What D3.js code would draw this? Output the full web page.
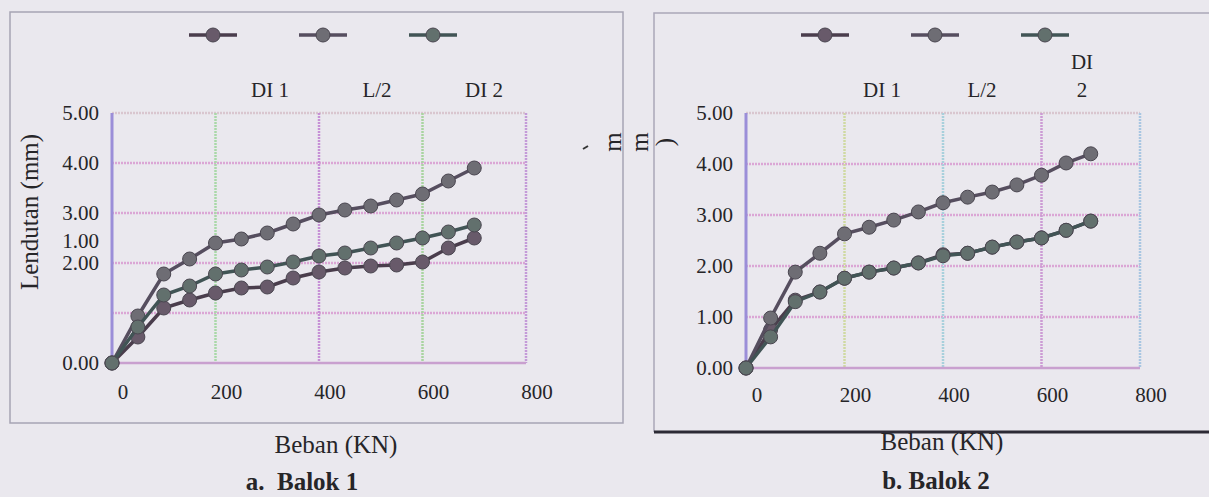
<!DOCTYPE html>
<html>
<head>
<meta charset="utf-8" />
<script src="https://cdn.jsdelivr.net/npm/d3@7/dist/d3.min.js"></script>
<style>
  body { margin: 0; background: #eae8ee; }
  svg { display: block; }
  text { font-family: "Liberation Serif", "Times New Roman", serif; fill: #262528; white-space: pre; }
</style>
</head>
<body>
<script>
// data
var loads = [0, 50, 100, 150, 200, 250, 300, 350, 400, 450, 500, 550, 600, 650, 700];
var seriesNames = ["DI 1", "L/2", "DI 2"];

var balok1DI1 = [0, 0.52, 1.10, 1.26, 1.40, 1.50, 1.52, 1.70, 1.82, 1.90, 1.94, 1.96, 2.02, 2.30, 2.50];
var balok1L2  = [0, 0.94, 1.78, 2.08, 2.40, 2.48, 2.60, 2.78, 2.96, 3.06, 3.14, 3.26, 3.38, 3.64, 3.90];
var balok1DI2 = [0, 0.72, 1.36, 1.54, 1.78, 1.86, 1.92, 2.02, 2.14, 2.20, 2.30, 2.40, 2.50, 2.62, 2.76];

var balok2DI1 = [0, 0.75, 1.33, 1.49, 1.76, 1.88, 1.96, 2.06, 2.22, 2.25, 2.37, 2.47, 2.55, 2.70, 2.88];
var balok2L2  = [0, 0.98, 1.88, 2.25, 2.63, 2.76, 2.90, 3.06, 3.24, 3.35, 3.45, 3.59, 3.78, 4.02, 4.20];
var balok2DI2 = [0, 0.61, 1.30, 1.49, 1.76, 1.88, 1.96, 2.06, 2.20, 2.25, 2.37, 2.47, 2.55, 2.70, 2.88];

var xTicks = [0, 200, 400, 600, 800];
var yTicks = [0, 1, 2, 3, 4, 5];

var lineColors = ["#4a3d4c", "#564e5f", "#415455"];
var dotColors  = ["#685a6a", "#6e6d74", "#62706d"];

var svg = d3.select("body").append("svg")
    .attr("width", 1209)
    .attr("height", 497);

// scanned page frames
svg.append("rect").attr("x", 10).attr("y", 12).attr("width", 613).attr("height", 411)
    .attr("fill", "none").attr("stroke", "#a6a4b4").attr("stroke-width", 1.5);
svg.append("path").attr("d", "M654,432 L654,13 L1209,13")
    .attr("fill", "none").attr("stroke", "#aaa6b8").attr("stroke-width", 1.5);
svg.append("line").attr("x1", 654).attr("x2", 1209).attr("y1", 432).attr("y2", 432)
    .attr("stroke", "#2c2a35").attr("stroke-width", 3);

function drawChart(o) {
  var g = svg.append("g");
  var x = d3.scaleLinear().domain([0, 800]).range([o.left, o.right]);
  var y = d3.scaleLinear().domain([0, 5]).range([o.bottom, o.top]);

  // grid
  g.selectAll(".hg").data(yTicks.slice(1)).enter().append("line")
      .attr("x1", o.left).attr("x2", o.right)
      .attr("y1", function (d) { return y(d); }).attr("y2", function (d) { return y(d); })
      .attr("stroke", function (d) { return d === 5 ? "#d9c6cf" : "#dba6d5"; })
      .attr("stroke-width", 2.5).attr("stroke-dasharray", "2,1");
  g.selectAll(".vg").data(xTicks.slice(1)).enter().append("line")
      .attr("y1", o.top).attr("y2", o.bottom)
      .attr("x1", function (d) { return x(d); }).attr("x2", function (d) { return x(d); })
      .attr("stroke", function (d, i) { return o.vColors[i]; })
      .attr("stroke-width", 2.5).attr("stroke-dasharray", "2,1");
  g.append("line").attr("x1", o.left).attr("x2", o.left).attr("y1", o.top).attr("y2", o.bottom)
      .attr("stroke", "#9b8ed8").attr("stroke-width", 3);
  g.append("line").attr("x1", o.left).attr("x2", o.right).attr("y1", o.bottom).attr("y2", o.bottom)
      .attr("stroke", "#c9a0cf").attr("stroke-width", 2.5);

  // axes labels
  g.selectAll(".yl").data(yTicks).enter().append("text")
      .attr("x", o.left - 13)
      .attr("y", function (d) { return y(o.labelAt[d] !== undefined ? o.labelAt[d] : d); })
      .attr("dy", "0.35em").attr("text-anchor", "end").style("font-size", "21px")
      .text(function (d) { return d3.format(".2f")(d); });
  g.selectAll(".xl").data(xTicks).enter().append("text")
      .attr("x", function (d) { return x(d) + 11; })
      .attr("y", o.xLabelY).attr("dy", "0.35em").attr("text-anchor", "middle")
      .style("font-size", "21px")
      .text(function (d) { return d; });

  var line = d3.line()
      .x(function (d) { return x(d[0]); })
      .y(function (d) { return y(d[1]); });

  o.series.forEach(function (vals, i) {
    var pts = loads.map(function (l, k) { return [l, vals[k]]; });
    g.append("path").datum(pts).attr("d", line)
        .attr("fill", "none").attr("stroke", lineColors[i]).attr("stroke-width", 3.5);
    g.selectAll(".p" + i).data(pts).enter().append("circle")
        .attr("cx", function (d) { return x(d[0]); })
        .attr("cy", function (d) { return y(d[1]); })
        .attr("r", 7)
        .attr("fill", dotColors[i]).attr("stroke", "#4a4650").attr("stroke-width", 1);
  });

  // legend
  seriesNames.forEach(function (name, i) {
    var cx = o.legX + i * o.legStep;
    g.append("line").attr("x1", cx - 24).attr("x2", cx + 24).attr("y1", 35).attr("y2", 35)
        .attr("stroke", lineColors[i]).attr("stroke-width", 3.5);
    g.append("circle").attr("cx", cx).attr("cy", 35).attr("r", 7)
        .attr("fill", dotColors[i]).attr("stroke", "#4a4650");
    var lines = o.legWrap[i] ? name.split(" ") : [name];
    lines.forEach(function (t, j) {
      g.append("text").attr("x", o.labX + i * o.labStep)
          .attr("y", 90 - (lines.length - 1 - j) * 28).attr("dy", "0.35em")
          .attr("text-anchor", "middle").style("font-size", "21px").text(t);
    });
  });

  g.append("text").attr("x", o.titleX).attr("y", o.titleY).attr("dy", "0.35em")
      .attr("text-anchor", "middle").style("font-size", "25px").text("Beban (KN)");
  g.append("text").attr("x", o.capX).attr("y", o.capY).attr("dy", "0.35em")
      .attr("text-anchor", "middle").style("font-size", "25px").style("font-weight", "bold")
      .text(o.caption);
}

drawChart({
  left: 112, right: 526, top: 113, bottom: 363,
  series: [balok1DI1, balok1L2, balok1DI2],
  vColors: ["#a9d8a8", "#c690d6", "#a9d4a0", "#c49ad8"],
  labelAt: { 1: 2.45 },
  xLabelY: 392,
  legX: 213, legStep: 110, labX: 270, labStep: 107, legWrap: [false, false, false],
  titleX: 336, titleY: 444, capX: 302, capY: 481, caption: "a.  Balok 1"
});

drawChart({
  left: 746, right: 1140, top: 113, bottom: 368,
  series: [balok2DI1, balok2L2, balok2DI2],
  vColors: ["#cfd9a2", "#a8d0dc", "#cc9bd4", "#a9c6e2"],
  labelAt: {},
  xLabelY: 395,
  legX: 825, legStep: 110, labX: 882, labStep: 100, legWrap: [false, false, true],
  titleX: 942, titleY: 441, capX: 936, capY: 480, caption: "b. Balok 2"
});

// left y axis title and stray fragments of the scan
svg.append("text").attr("transform", "translate(29,212) rotate(-90)")
    .attr("dy", "0.35em").attr("text-anchor", "middle").style("font-size", "25px")
    .text("Lendutan (mm)");
[["m", 612], ["m", 639], [")", 664]].forEach(function (f) {
  svg.append("text").attr("transform", "translate(" + f[1] + ",142) rotate(-90)")
      .attr("dy", "0.35em").attr("text-anchor", "middle").style("font-size", "25px").text(f[0]);
});
svg.append("line").attr("x1", 583).attr("y1", 149).attr("x2", 588).attr("y2", 146)
    .attr("stroke", "#333").attr("stroke-width", 2);
</script>
</body>
</html>
